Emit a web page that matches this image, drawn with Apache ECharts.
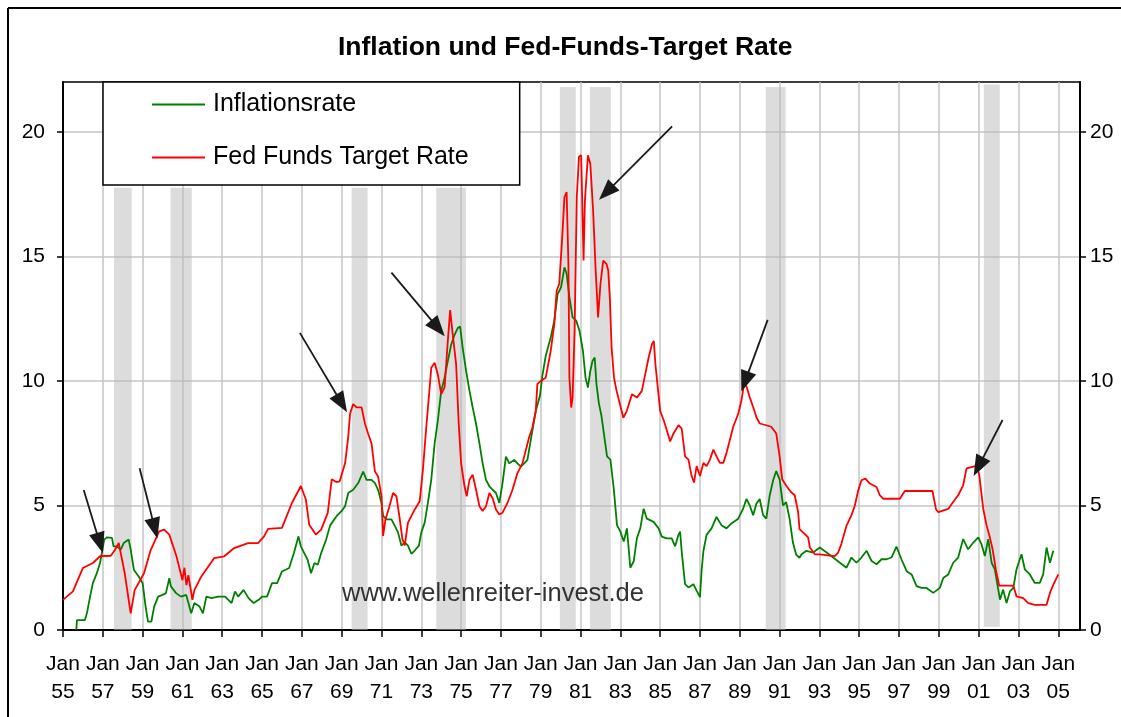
<!DOCTYPE html>
<html><head><meta charset="utf-8">
<script src="https://cdn.jsdelivr.net/npm/echarts@6/dist/echarts.min.js"></script>
<style>html,body{margin:0;padding:0;background:#fff}#c{width:1121px;height:717px}</style>
</head><body><div id="c"></div>
<script>
const titleText = 'Inflation und Fed-Funds-Target Rate';
const seriesNames = ['Inflationsrate', 'Fed Funds Target Rate'];
const watermarkText = 'www.wellenreiter-invest.de';
const yearTicks = [1955,1957,1959,1961,1963,1965,1967,1969,1971,1973,1975,1977,1979,1981,1983,1985,1987,1989,1991,1993,1995,1997,1999,2001,2003,2005];
const valueTicks = [0,5,10,15,20];

const inflationRate = [
[1955.67,0],[1955.7,0.4],[1956.1,0.4],[1956.2,0.67],[1956.36,1.34],[1956.5,1.88],[1956.7,2.28],[1956.86,2.69],[1956.95,3.09],[1957.07,3.63],[1957.2,3.72],[1957.46,3.7],[1957.54,3.36],[1957.7,3.36],[1957.9,3.23],[1958.05,3.49],[1958.3,3.63],[1958.4,3.23],[1958.56,2.42],[1958.8,2.15],[1959.0,1.88],[1959.15,0.94],[1959.27,0.34],[1959.44,0.34],[1959.58,0.94],[1959.78,1.34],[1960.0,1.41],[1960.17,1.48],[1960.34,2.08],[1960.42,1.75],[1960.68,1.48],[1960.93,1.34],[1961.19,1.41],[1961.44,0.67],[1961.6,1.08],[1961.86,0.94],[1962.03,0.67],[1962.2,1.34],[1962.46,1.28],[1962.8,1.34],[1963.14,1.34],[1963.47,1.08],[1963.64,1.55],[1963.8,1.34],[1964.07,1.61],[1964.32,1.28],[1964.58,1.08],[1964.83,1.21],[1965.0,1.34],[1965.25,1.34],[1965.5,1.88],[1965.76,1.88],[1966.0,2.35],[1966.36,2.49],[1966.6,3.09],[1966.83,3.76],[1966.95,3.36],[1967.12,3.09],[1967.29,2.82],[1967.46,2.28],[1967.63,2.69],[1967.8,2.62],[1967.97,3.09],[1968.22,3.63],[1968.42,4.2],[1968.75,4.58],[1969.0,4.78],[1969.17,4.97],[1969.33,5.5],[1969.58,5.63],[1969.83,5.9],[1970.08,6.36],[1970.25,6.03],[1970.5,6.03],[1970.67,5.9],[1970.83,5.63],[1971.0,5.1],[1971.08,4.58],[1971.25,4.44],[1971.5,4.44],[1971.67,4.18],[1971.83,3.92],[1972.0,3.39],[1972.17,3.52],[1972.33,3.39],[1972.5,3.06],[1972.67,3.19],[1972.88,3.39],[1973.0,3.92],[1973.17,4.31],[1973.33,5.1],[1973.5,6.03],[1973.67,7.49],[1973.83,8.41],[1974.0,9.6],[1974.17,10.13],[1974.33,10.79],[1974.5,11.45],[1974.67,11.85],[1974.83,12.12],[1974.95,12.18],[1975.08,11.32],[1975.25,10.4],[1975.42,9.6],[1975.58,8.94],[1975.75,8.28],[1975.92,7.49],[1976.08,6.69],[1976.25,6.03],[1976.42,5.77],[1976.58,5.63],[1976.75,5.5],[1976.92,5.1],[1977.08,5.9],[1977.25,6.96],[1977.42,6.69],[1977.67,6.83],[1977.83,6.69],[1978.0,6.56],[1978.17,6.69],[1978.33,6.83],[1978.5,7.63],[1978.75,8.79],[1978.96,9.4],[1979.08,10.2],[1979.25,11.0],[1979.5,11.74],[1979.68,12.42],[1979.85,13.49],[1980.02,13.76],[1980.19,14.56],[1980.3,14.3],[1980.44,13.36],[1980.6,12.55],[1980.78,12.42],[1980.95,12.0],[1981.12,11.2],[1981.25,10.13],[1981.37,9.73],[1981.49,10.4],[1981.6,10.8],[1981.71,10.94],[1981.8,9.87],[1981.92,9.1],[1982.05,8.6],[1982.17,7.89],[1982.33,6.97],[1982.5,6.84],[1982.67,5.66],[1982.83,4.21],[1983.0,3.95],[1983.17,3.55],[1983.33,4.08],[1983.5,2.5],[1983.67,2.76],[1983.83,3.68],[1984.0,4.08],[1984.17,4.87],[1984.33,4.47],[1984.67,4.34],[1984.92,4.08],[1985.08,3.75],[1985.33,3.68],[1985.58,3.68],[1985.75,3.36],[1985.92,3.82],[1986.0,3.95],[1986.08,3.16],[1986.25,1.84],[1986.42,1.71],[1986.67,1.84],[1986.83,1.58],[1987.0,1.32],[1987.08,2.37],[1987.17,3.16],[1987.33,3.82],[1987.58,4.08],[1987.83,4.54],[1988.08,4.21],[1988.33,4.08],[1988.58,4.28],[1988.92,4.47],[1989.17,4.87],[1989.33,5.26],[1989.5,5.0],[1989.67,4.61],[1989.83,5.07],[1990.0,5.26],[1990.17,4.61],[1990.33,4.47],[1990.5,5.39],[1990.67,6.0],[1990.83,6.38],[1991.0,6.05],[1991.17,5.0],[1991.33,5.13],[1991.5,4.47],[1991.67,3.5],[1991.83,3.03],[1992.0,2.9],[1992.1,3.04],[1992.35,3.18],[1992.68,3.11],[1993.02,3.31],[1993.36,3.11],[1993.69,2.91],[1994.03,2.7],[1994.36,2.5],[1994.61,2.91],[1994.86,2.7],[1995.11,2.91],[1995.37,3.18],[1995.62,2.77],[1995.87,2.64],[1996.12,2.84],[1996.37,2.84],[1996.62,2.91],[1996.87,3.35],[1997.12,2.84],[1997.38,2.36],[1997.63,2.23],[1997.88,1.76],[1998.13,1.69],[1998.38,1.69],[1998.72,1.49],[1999.05,1.69],[1999.22,2.09],[1999.47,2.23],[1999.72,2.7],[1999.97,2.91],[2000.22,3.65],[2000.47,3.24],[2000.73,3.51],[2000.98,3.72],[2001.14,3.45],[2001.31,2.97],[2001.48,3.65],[2001.65,2.7],[2001.81,2.43],[2002.07,1.22],[2002.23,1.62],[2002.4,1.08],[2002.57,1.55],[2002.74,1.69],[2002.9,2.43],[2003.15,3.04],[2003.32,2.43],[2003.57,2.23],[2003.82,1.89],[2004.07,1.89],[2004.24,2.23],[2004.41,3.31],[2004.58,2.7],[2004.75,3.18]
];

const fedFundsRate = [
[1955.0,1.21],[1955.5,1.55],[1956.0,2.49],[1956.5,2.69],[1956.86,2.96],[1957.4,2.98],[1957.6,3.2],[1957.8,3.5],[1958.1,2.28],[1958.4,0.67],[1958.5,0.6],[1958.6,1.6],[1959.07,2.28],[1959.4,3.2],[1959.83,3.96],[1960.08,4.03],[1960.34,3.83],[1960.7,2.96],[1961.0,2.0],[1961.1,2.5],[1961.2,1.8],[1961.3,2.2],[1961.5,1.21],[1961.6,1.6],[1961.95,2.15],[1962.3,2.55],[1962.6,2.89],[1963.1,2.96],[1963.6,3.29],[1964.3,3.49],[1964.8,3.49],[1965.1,3.76],[1965.3,4.06],[1966.0,4.1],[1966.5,5.1],[1966.95,5.78],[1967.2,5.24],[1967.37,4.23],[1967.7,3.83],[1967.97,4.03],[1968.3,4.7],[1968.5,6.05],[1968.73,5.94],[1968.9,5.97],[1969.17,6.69],[1969.33,7.75],[1969.42,8.68],[1969.58,9.07],[1969.75,8.94],[1970.0,8.94],[1970.17,8.28],[1970.33,7.88],[1970.5,7.49],[1970.67,6.36],[1970.83,6.16],[1971.0,5.37],[1971.08,3.78],[1971.2,4.44],[1971.4,4.97],[1971.58,5.5],[1971.75,5.37],[1971.92,4.44],[1972.05,3.65],[1972.17,3.4],[1972.33,4.31],[1972.67,4.84],[1972.92,5.17],[1973.08,6.43],[1973.25,8.15],[1973.42,9.74],[1973.5,10.53],[1973.67,10.73],[1973.83,10.26],[1974.0,9.47],[1974.17,9.74],[1974.33,11.59],[1974.45,12.84],[1974.58,11.85],[1974.75,10.66],[1974.88,8.28],[1975.0,6.69],[1975.17,5.77],[1975.28,5.37],[1975.42,6.03],[1975.58,6.23],[1975.75,5.63],[1975.92,4.97],[1976.08,4.78],[1976.25,4.97],[1976.42,5.5],[1976.58,5.3],[1976.75,4.84],[1976.92,4.64],[1977.08,4.71],[1977.33,5.1],[1977.58,5.63],[1977.83,6.3],[1978.08,6.69],[1978.25,7.22],[1978.42,7.75],[1978.58,8.12],[1978.75,8.79],[1978.83,9.87],[1979.0,10.0],[1979.25,10.13],[1979.5,11.2],[1979.68,12.28],[1979.8,13.62],[1979.93,13.9],[1980.07,15.64],[1980.19,17.38],[1980.3,17.58],[1980.39,14.7],[1980.44,10.13],[1980.53,8.93],[1980.6,9.33],[1980.7,12.0],[1980.81,17.38],[1980.92,19.0],[1981.03,19.06],[1981.08,17.38],[1981.15,14.83],[1981.22,17.25],[1981.37,19.06],[1981.49,18.72],[1981.63,16.85],[1981.76,14.43],[1981.88,12.55],[1982.0,13.9],[1982.14,14.83],[1982.3,14.7],[1982.39,14.43],[1982.47,13.36],[1982.56,11.34],[1982.68,10.13],[1982.81,9.6],[1982.98,9.06],[1983.15,8.52],[1983.32,8.79],[1983.58,9.46],[1983.83,9.33],[1984.08,9.6],[1984.25,10.27],[1984.42,10.94],[1984.59,11.48],[1984.68,11.6],[1984.76,10.67],[1984.88,9.73],[1985.0,8.79],[1985.19,8.39],[1985.33,8.03],[1985.5,7.57],[1985.67,7.89],[1985.92,8.22],[1986.08,8.09],[1986.25,6.97],[1986.42,6.84],[1986.58,6.18],[1986.7,5.92],[1986.83,6.58],[1987.0,6.18],[1987.17,6.71],[1987.33,6.58],[1987.5,6.84],[1987.67,7.24],[1987.83,6.97],[1988.0,6.71],[1988.17,6.71],[1988.33,7.1],[1988.5,7.63],[1988.67,8.16],[1988.92,8.68],[1989.08,9.21],[1989.2,9.8],[1989.33,9.8],[1989.5,9.34],[1989.67,8.95],[1989.83,8.55],[1990.0,8.29],[1990.33,8.22],[1990.58,8.16],[1990.83,7.89],[1991.0,6.97],[1991.13,6.05],[1991.33,5.79],[1991.58,5.53],[1991.76,5.41],[1991.93,4.73],[1992.0,4.05],[1992.27,3.85],[1992.43,3.72],[1992.52,3.31],[1992.77,3.04],[1993.0,3.04],[1993.77,2.97],[1993.94,3.11],[1994.1,3.45],[1994.36,4.19],[1994.6,4.59],[1994.78,5.0],[1994.95,5.61],[1995.11,6.01],[1995.31,6.08],[1995.53,5.88],[1995.87,5.74],[1996.03,5.41],[1996.2,5.27],[1997.04,5.27],[1997.29,5.58],[1998.68,5.58],[1998.85,4.86],[1998.97,4.73],[1999.47,4.86],[1999.72,5.14],[1999.97,5.41],[2000.22,5.81],[2000.39,6.49],[2000.89,6.59],[2001.03,6.22],[2001.23,4.86],[2001.4,4.19],[2001.56,3.72],[2001.7,3.24],[2001.86,2.43],[2002.03,1.78],[2002.74,1.78],[2002.9,1.35],[2003.24,1.28],[2003.49,1.08],[2003.82,1.01],[2004.41,1.01],[2004.58,1.49],[2004.75,1.82],[2005.0,2.23]
];

// [start, end, bottom, top]
const recessionBands = [
[1957.56,1958.45,0,17.75],[1960.4,1961.47,0,17.75],[1969.5,1970.3,0,17.75],[1973.75,1975.24,0,17.75],
[1979.96,1980.76,0,21.8],[1981.47,1982.52,0,21.8],[1990.3,1991.3,0,21.8],[2001.26,2002.06,0.13,21.9]
];

// [[tailYear, tailValue], [headYear, headValue]]
const arrowMarks = [
[[1956.04,5.62],[1956.85,3.49]],
[[1958.85,6.49],[1959.61,4.08]],
[[1966.9,11.93],[1969.0,9.1]],
[[1971.5,14.35],[1973.84,12.12]],
[[1985.6,20.22],[1982.3,17.57]],
[[1990.4,12.45],[1989.26,9.97]],
[[2002.2,8.43],[2000.99,6.56]]
];

const fontFam = '"Liberation Sans", Arial, sans-serif';
const chart = echarts.init(document.getElementById('c'), null, {renderer: 'canvas'});

const xFmt = v => {
  const r = Math.round(v);
  if (Math.abs(v - r) > 1e-6 || yearTicks.indexOf(r) < 0) return '';
  return 'Jan\n' + String(r % 100).padStart(2, '0');
};
const yFmt = v => (valueTicks.indexOf(v) >= 0 ? String(v) : '');

const yAxisBase = (pos, margin) => ({
  type: 'value', min: 0, max: 22, interval: 5, position: pos,
  axisLine: {show: true, lineStyle: {color: '#000', width: 2}},
  axisTick: {show: true, length: 6, lineStyle: {color: '#000', width: 1.5}, customValues: valueTicks},
  axisLabel: {formatter: yFmt, customValues: valueTicks, fontSize: 21, color: '#000', margin: margin, fontFamily: fontFam},
  splitLine: {show: pos === 'left', lineStyle: {color: '#c4c4c4', width: 1.5}}
});

const option = {
  animation: false,
  backgroundColor: '#fff',
  title: {
    text: titleText, left: 338, top: 34, padding: 0,
    textStyle: {fontFamily: fontFam, fontWeight: 'bold', fontSize: 26.5, color: '#000'}
  },
  legend: {
    data: seriesNames, orient: 'vertical', left: 103, top: 82,
    padding: [10, 51, 15, 49], itemGap: 28, itemWidth: 53, itemHeight: 2, icon: 'rect',
    backgroundColor: '#fff', borderColor: '#000', borderWidth: 1.5,
    textStyle: {fontFamily: fontFam, fontSize: 25, lineHeight: 24, color: '#000', padding: [0, 0, 0, 3]},
    z: 10, selectedMode: false
  },
  grid: {left: 63, top: 82, right: 41, bottom: 87, show: true, borderColor: '#000', borderWidth: 1.5},
  xAxis: {
    type: 'value', min: 1955, max: 2006.09, interval: 2,
    axisLine: {show: true, lineStyle: {color: '#000', width: 2}},
    axisTick: {show: true, length: 7, lineStyle: {color: '#000', width: 1.5}, customValues: yearTicks},
    axisLabel: {formatter: xFmt, customValues: yearTicks, fontSize: 21, lineHeight: 28, color: '#000', margin: 20, fontFamily: fontFam},
    splitLine: {show: true, lineStyle: {color: '#c4c4c4', width: 1.5}}
  },
  yAxis: [yAxisBase('left', 18), yAxisBase('right', 10)],
  graphic: [
    {type: 'line', shape: {x1: 8, y1: 8, x2: 1121, y2: 8}, style: {stroke: '#000', lineWidth: 2}, z: 100},
    {type: 'line', shape: {x1: 8, y1: 8, x2: 8, y2: 717}, style: {stroke: '#000', lineWidth: 2}, z: 100},
    {type: 'text', left: 342, top: 581, z: 50,
     style: {text: watermarkText, font: '25.5px "Liberation Sans", Arial, sans-serif', fill: '#333'}}
  ],
  series: [
    {name: seriesNames[0], type: 'line', data: inflationRate, showSymbol: false, symbol: 'none',
     color: '#008000', lineStyle: {color: '#008000', width: 1.8}, z: 2},
    {name: seriesNames[1], type: 'line', data: fedFundsRate, showSymbol: false, symbol: 'none',
     color: '#ff0000', lineStyle: {color: '#ff0000', width: 1.8}, z: 2},
    {name: 'bands', type: 'line', data: [], z: 4, silent: true,
     markArea: {silent: true, itemStyle: {color: 'rgba(185,185,185,0.5)'},
       data: recessionBands.map(b => [{coord: [b[0], b[2]]}, {coord: [b[1], b[3]]}])}},
    {name: 'arrows', type: 'line', data: [], z: 5, silent: true,
     markLine: {silent: true, symbol: ['none', 'triangle'], symbolSize: [16, 21], label: {show: false},
       lineStyle: {color: '#1a1a1a', width: 1.8, type: 'solid'},
       itemStyle: {color: '#000'},
       data: arrowMarks.map(a => [{coord: a[0]}, {coord: a[1]}])}}
  ]
};
chart.setOption(option);
</script>
</body></html>
